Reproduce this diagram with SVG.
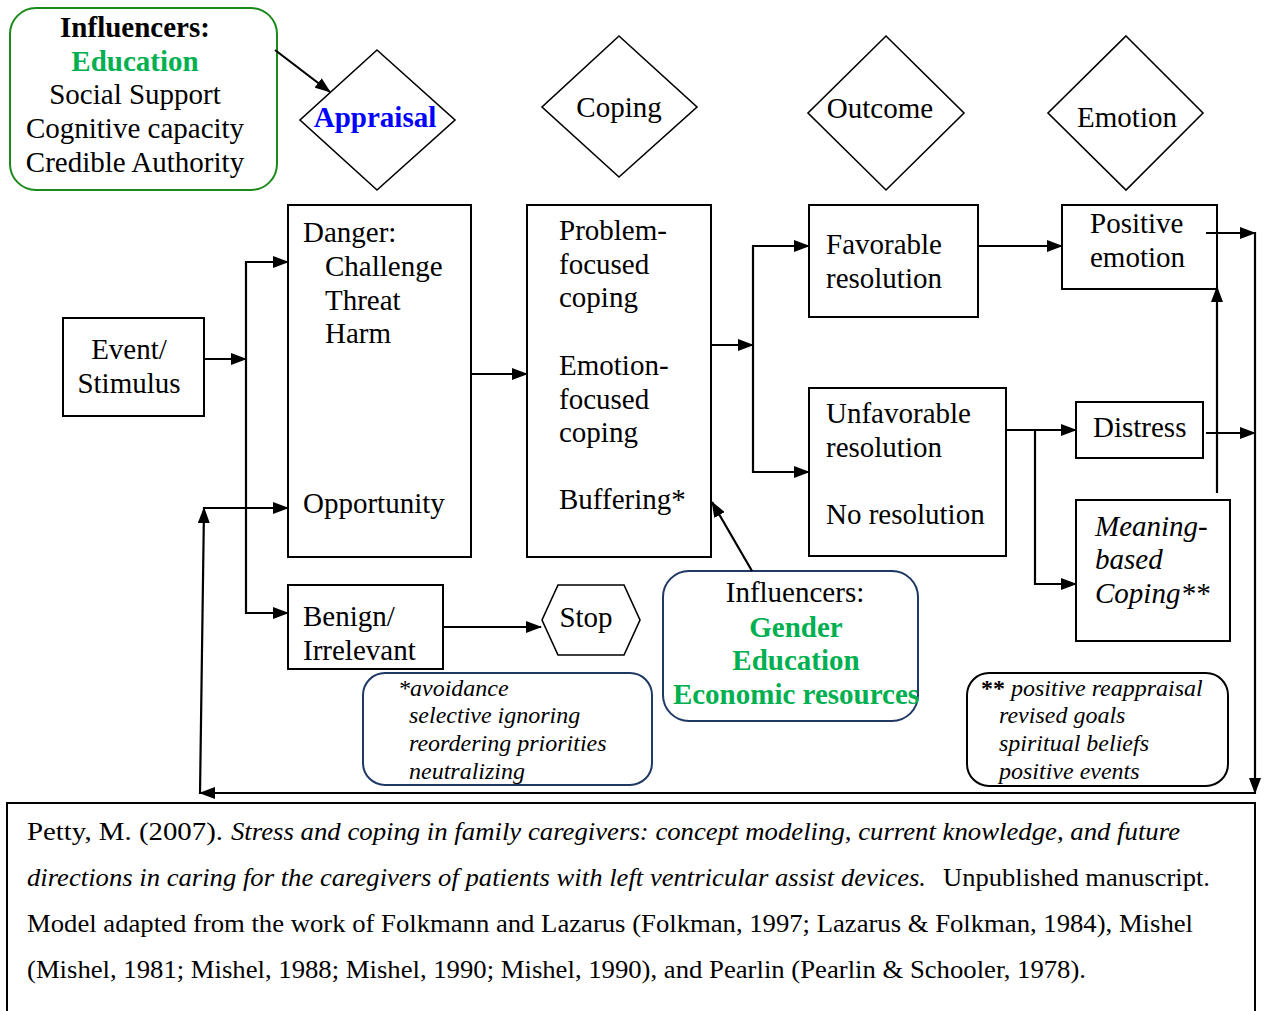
<svg xmlns="http://www.w3.org/2000/svg" width="1266" height="1011" viewBox="0 0 1266 1011">
<defs>
<marker id="ah" markerUnits="userSpaceOnUse" markerWidth="16" markerHeight="12" refX="15" refY="6" orient="auto">
<path d="M0,0 L16,6 L0,12 z" fill="#000"/>
</marker>
<style>
text{font-family:"Liberation Serif","Times New Roman",serif;fill:#000}
.n{font-size:29px}
.b{font-weight:bold}
.i{font-style:italic}
.g{fill:#00b050}
.box{fill:#fff;stroke:#000;stroke-width:2}
.dia{fill:#fff;stroke:#000;stroke-width:1.6}
.c{fill:none;stroke:#000;stroke-width:2.2}
.a{marker-end:url(#ah)}
.note{font-size:24px;font-style:italic}
.cit{font-size:25.5px}
</style>
</defs>
<rect width="1266" height="1011" fill="#fff"/>

<g id="influencers-top">
<rect x="10" y="8" width="267" height="182" rx="26" fill="#fff" stroke="#1a8a1a" stroke-width="2"/>
<text class="n b" x="135" y="37" text-anchor="middle">Influencers:</text>
<text class="n b g" x="135" y="71" text-anchor="middle">Education</text>
<text class="n" x="135" y="104" text-anchor="middle">Social Support</text>
<text class="n" x="135" y="138" text-anchor="middle">Cognitive capacity</text>
<text class="n" x="135" y="172" text-anchor="middle">Credible Authority</text>
</g>

<g id="appraisal">
<polygon class="dia" points="377,50 455,120 377,190 300,120"/>
<text class="n b" x="375" y="127" text-anchor="middle" style="fill:#0000ff">Appraisal</text>
</g>
<g id="coping-d">
<polygon class="dia" points="619,36 697,107 619,177 542,107"/>
<text class="n" x="619" y="117" text-anchor="middle">Coping</text>
</g>
<g id="outcome-d">
<polygon class="dia" points="886,36 964,113 886,190 808,113"/>
<text class="n" x="880" y="118" text-anchor="middle">Outcome</text>
</g>
<g id="emotion-d">
<polygon class="dia" points="1126,36 1203,113 1126,190 1048,113"/>
<text class="n" x="1127" y="127" text-anchor="middle">Emotion</text>
</g>

<g id="event">
<rect class="box" x="63" y="318" width="141" height="98"/>
<text class="n" x="129" y="359" text-anchor="middle">Event/</text>
<text class="n" x="129" y="393" text-anchor="middle">Stimulus</text>
</g>

<g id="danger">
<rect class="box" x="288" y="205" width="183" height="352"/>
<text class="n" x="303" y="242">Danger:</text>
<text class="n" x="325" y="276">Challenge</text>
<text class="n" x="325" y="310">Threat</text>
<text class="n" x="325" y="343">Harm</text>
<text class="n" x="303" y="513">Opportunity</text>
</g>

<g id="coping-box">
<rect class="box" x="527" y="205" width="184" height="352"/>
<text class="n" x="559" y="240">Problem-</text>
<text class="n" x="559" y="274">focused</text>
<text class="n" x="559" y="307">coping</text>
<text class="n" x="559" y="375">Emotion-</text>
<text class="n" x="559" y="409">focused</text>
<text class="n" x="559" y="442">coping</text>
<text class="n" x="559" y="509">Buffering*</text>
</g>

<g id="favorable">
<rect class="box" x="809" y="205" width="169" height="112"/>
<text class="n" x="826" y="254">Favorable</text>
<text class="n" x="826" y="288">resolution</text>
</g>

<g id="positive">
<rect class="box" x="1062" y="205" width="155" height="84"/>
<text class="n" x="1090" y="233">Positive</text>
<text class="n" x="1090" y="267">emotion</text>
</g>

<g id="unfavorable">
<rect class="box" x="809" y="388" width="197" height="168"/>
<text class="n" x="826" y="423">Unfavorable</text>
<text class="n" x="826" y="457">resolution</text>
<text class="n" x="826" y="524">No resolution</text>
</g>

<g id="distress">
<rect class="box" x="1076" y="402" width="127" height="56"/>
<text class="n" x="1093" y="437">Distress</text>
</g>

<g id="meaning">
<rect class="box" x="1076" y="500" width="154" height="141"/>
<text class="n i" x="1095" y="536">Meaning-</text>
<text class="n i" x="1095" y="569">based</text>
<text class="n i" x="1095" y="603">Coping**</text>
</g>

<g id="benign">
<rect class="box" x="288" y="585" width="155" height="84"/>
<text class="n" x="303" y="626">Benign/</text>
<text class="n" x="303" y="660">Irrelevant</text>
</g>

<g id="stop">
<polygon class="dia" points="542,620 558,585 624,585 640,620 624,655 558,655"/>
<text class="n" x="586" y="627" text-anchor="middle">Stop</text>
</g>

<g id="avoidance-note">
<rect x="363" y="673" width="289" height="112" rx="22" fill="#fff" stroke="#1f3864" stroke-width="2"/>
<text class="note" x="398" y="696">*avoidance</text>
<text class="note" x="409" y="723">selective ignoring</text>
<text class="note" x="409" y="751">reordering priorities</text>
<text class="note" x="409" y="779">neutralizing</text>
</g>

<g id="influencers-mid">
<rect x="663" y="571" width="255" height="150" rx="26" fill="#fff" stroke="#1f3864" stroke-width="2"/>
<text class="n" x="795" y="602" text-anchor="middle">Influencers:</text>
<text class="n b g" x="796" y="637" text-anchor="middle">Gender</text>
<text class="n b g" x="796" y="670" text-anchor="middle">Education</text>
<text class="n b g" x="796" y="704" text-anchor="middle">Economic resources</text>
</g>

<g id="meaning-note">
<rect x="967" y="673" width="261" height="113" rx="22" fill="#fff" stroke="#000" stroke-width="2"/>
<text class="note" x="981" y="696"><tspan font-weight="bold" font-style="normal">**</tspan> positive reappraisal</text>
<text class="note" x="999" y="723">revised goals</text>
<text class="note" x="999" y="751">spiritual beliefs</text>
<text class="note" x="999" y="779">positive events</text>
</g>

<g id="connectors">
<line class="c a" x1="275" y1="50" x2="330" y2="92"/>
<line class="c a" x1="204" y1="359" x2="246" y2="359"/>
<line class="c" x1="246" y1="261" x2="246" y2="614"/>
<line class="c a" x1="245" y1="262" x2="288" y2="262"/>
<line class="c a" x1="203" y1="508" x2="288" y2="508"/>
<line class="c a" x1="245" y1="613" x2="288" y2="613"/>
<line class="c a" x1="471" y1="374" x2="527" y2="374"/>
<line class="c a" x1="711" y1="345" x2="753" y2="345"/>
<line class="c" x1="753" y1="245" x2="753" y2="473"/>
<line class="c a" x1="752" y1="246" x2="809" y2="246"/>
<line class="c a" x1="752" y1="472" x2="809" y2="472"/>
<line class="c a" x1="978" y1="246" x2="1062" y2="246"/>
<line class="c a" x1="1206" y1="233" x2="1255" y2="233"/>
<line class="c a" x1="1006" y1="430" x2="1076" y2="430"/>
<polyline class="c a" points="1035,430 1035,584 1076,584"/>
<line class="c a" x1="1206" y1="433" x2="1255" y2="433"/>
<line class="c a" x1="1217" y1="493" x2="1217" y2="287"/>
<line class="c a" x1="443" y1="627" x2="541" y2="627"/>
<line class="c a" x1="752" y1="571" x2="712" y2="502"/>
<line class="c a" x1="1255" y1="232" x2="1255" y2="793"/>
<line class="c a" x1="1256" y1="793" x2="200" y2="793"/>
<line class="c a" x1="200" y1="794" x2="204" y2="508"/>
</g>

<g id="citation">
<rect x="7" y="803" width="1248" height="214" fill="#fff" stroke="#000" stroke-width="2"/>
<text class="cit" x="27" y="840" textLength="196" lengthAdjust="spacingAndGlyphs">Petty, M.  (2007).</text>
<text class="cit i" x="231" y="840" textLength="949" lengthAdjust="spacingAndGlyphs">Stress and coping in family caregivers: concept modeling, current knowledge, and future</text>
<text class="cit i" x="27" y="886" textLength="899" lengthAdjust="spacingAndGlyphs">directions in caring for the caregivers of patients with left ventricular assist devices.</text>
<text class="cit" x="943" y="886" textLength="267" lengthAdjust="spacingAndGlyphs">Unpublished manuscript.</text>
<text class="cit" x="27" y="932" textLength="1166" lengthAdjust="spacingAndGlyphs">Model adapted from the work of Folkmann and Lazarus (Folkman, 1997; Lazarus &amp; Folkman, 1984), Mishel</text>
<text class="cit" x="27" y="978" textLength="1059" lengthAdjust="spacingAndGlyphs">(Mishel, 1981; Mishel, 1988; Mishel, 1990; Mishel, 1990), and Pearlin (Pearlin &amp; Schooler, 1978).</text>
</g>
</svg>
